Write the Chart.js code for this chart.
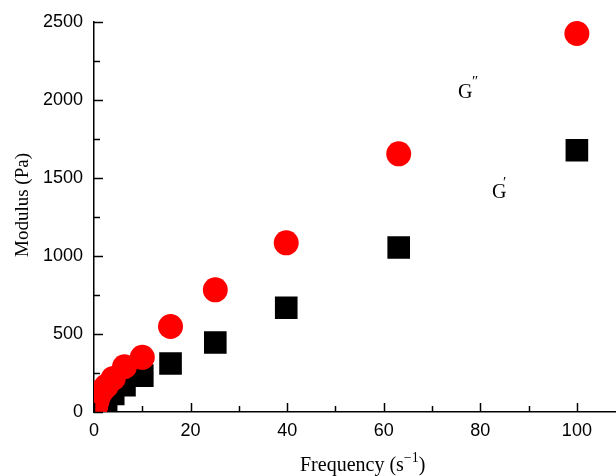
<!DOCTYPE html>
<html>
<head>
<meta charset="utf-8">
<script src="https://cdn.jsdelivr.net/npm/chart.js@4/dist/chart.umd.min.js"></script>
<style>
  html, body { margin: 0; padding: 0; background: #fff; }
  #wrap { width: 616px; height: 476px; }
</style>
</head>
<body>
<div id="wrap"><canvas id="modChart" width="616" height="476"></canvas></div>
<script>
  // frequency (s^-1) and the two moduli (Pa)
  const freq = [0.1, 0.158, 0.251, 0.398, 0.631, 1, 1.585, 2.512, 3.981, 6.31, 10, 15.85, 25.12, 39.81, 63.1, 100];
  const gLoss = [10, 18, 30, 45, 70, 105, 135, 165, 215, 290, 350, 548, 783, 1084, 1654, 2425];
  const gStorage = [3, 5, 8, 12, 20, 30, 48, 75, 115, 172, 233, 311, 445, 668, 1054, 1677];

  const xTicks = [0, 10, 20, 30, 40, 50, 60, 70, 80, 90, 100];
  const xLabels = [0, 20, 40, 60, 80, 100];
  const yTicks = [0, 250, 500, 750, 1000, 1250, 1500, 1750, 2000, 2250, 2500];
  const yLabels = [0, 500, 1000, 1500, 2000, 2500];

  const pts = (xs, ys) => xs.map((x, i) => ({ x: x, y: ys[i] }));

  // inward ticks, axis titles and G labels
  const decor = {
    id: 'decor',
    afterDraw(chart) {
      const c = chart.ctx;
      const xs = chart.scales.x, ys = chart.scales.y;
      const a = chart.chartArea;
      c.save();
      c.strokeStyle = '#000';
      c.lineWidth = 1.5;
      xTicks.forEach(v => {
        const px = Math.round(xs.getPixelForValue(v)) + 0.5;
        const len = xLabels.includes(v) ? 9 : 6;
        c.beginPath(); c.moveTo(px, a.bottom); c.lineTo(px, a.bottom - len); c.stroke();
      });
      yTicks.forEach(v => {
        const py = Math.round(ys.getPixelForValue(v)) + 0.5;
        const len = yLabels.includes(v) ? 9 : 6;
        c.beginPath(); c.moveTo(a.left, py); c.lineTo(a.left + len, py); c.stroke();
      });

      c.fillStyle = '#000';
      // x title with superscript
      c.font = '20px "Liberation Serif", "Times New Roman", serif';
      c.textBaseline = 'alphabetic';
      const t1 = 'Frequency (s', t2 = '\u22121', t3 = ')';
      const w1 = c.measureText(t1).width;
      c.font = '14px "Liberation Serif", serif';
      const w2 = c.measureText(t2).width;
      let x0 = 300;
      const yb = 471;
      c.font = '20px "Liberation Serif", serif';
      c.fillText(t1, x0, yb);
      c.font = '14px "Liberation Serif", serif';
      c.fillText(t2, x0 + w1, yb - 9);
      c.font = '20px "Liberation Serif", serif';
      c.fillText(t3, x0 + w1 + w2, yb);

      // y title
      c.save();
      c.translate(28, 205);
      c.rotate(-Math.PI / 2);
      c.font = '19px "Liberation Serif", serif';
      c.textAlign = 'center';
      c.fillText('Modulus (Pa)', 0, 0);
      c.restore();

      // series labels
      c.font = '20px "Liberation Serif", serif';
      c.textAlign = 'left';
      c.fillText('G', 458, 98);
      c.font = '15px "Liberation Serif", serif';
      c.fillText('\u2033', 472, 86);
      c.font = '20px "Liberation Serif", serif';
      c.fillText('G', 492, 198);
      c.font = '15px "Liberation Serif", serif';
      c.fillText('\u2032', 503, 187);
      c.restore();
    }
  };

  const ctx = document.getElementById('modChart');
  const modChart = new Chart(ctx, {
    type: 'scatter',
    data: {
      datasets: [{
        label: 'G\u2033',
        data: pts(freq, gLoss),
        pointStyle: 'circle',
        pointRadius: 12.5,
        pointBorderWidth: 0,
        backgroundColor: '#ff0000',
        borderColor: '#ff0000',
        clip: { left: 0, bottom: 0, top: 5, right: 5 }
      },
      {
        label: 'G\u2032',
        data: pts(freq, gStorage),
        pointStyle: 'rect',
        pointRadius: 16,
        pointBorderWidth: 0,
        backgroundColor: '#000000',
        borderColor: '#000000',
        clip: { left: 0, bottom: 0, top: 5, right: 5 }
      }]
    },
    options: {
      responsive: false,
      animation: false,
      events: [],
      layout: { autoPadding: false, padding: { top: 20, right: 0, left: 0, bottom: 0 } },
      plugins: {
        legend: { display: false },
        tooltip: { enabled: false }
      },
      scales: {
        x: {
          type: 'linear',
          min: 0,
          max: 108.1,
          afterBuildTicks: (axis) => { axis.ticks = xLabels.map(v => ({ value: v })); },
          afterFit: (axis) => { axis.height = 64; axis.paddingRight = 0; axis.paddingLeft = 0; },
          grid: { display: false, drawTicks: false },
          border: { display: true, color: '#000', width: 1.5 },
          ticks: {
            color: '#000',
            padding: 8,
            maxRotation: 0,
            callback: (v) => String(v),
            font: { family: '"Liberation Sans", Arial, sans-serif', size: 18 }
          }
        },
        y: {
          min: 0,
          max: 2500,
          afterBuildTicks: (axis) => { axis.ticks = yLabels.map(v => ({ value: v })); },
          afterFit: (axis) => { axis.width = 94; },
          grid: { display: false, drawTicks: false },
          border: { display: true, color: '#000', width: 1.5 },
          ticks: {
            color: '#000',
            padding: 11,
            callback: (v) => String(v),
            font: { family: '"Liberation Sans", Arial, sans-serif', size: 18 }
          }
        }
      }
    },
    plugins: [decor]
  });
</script>
</body>
</html>
